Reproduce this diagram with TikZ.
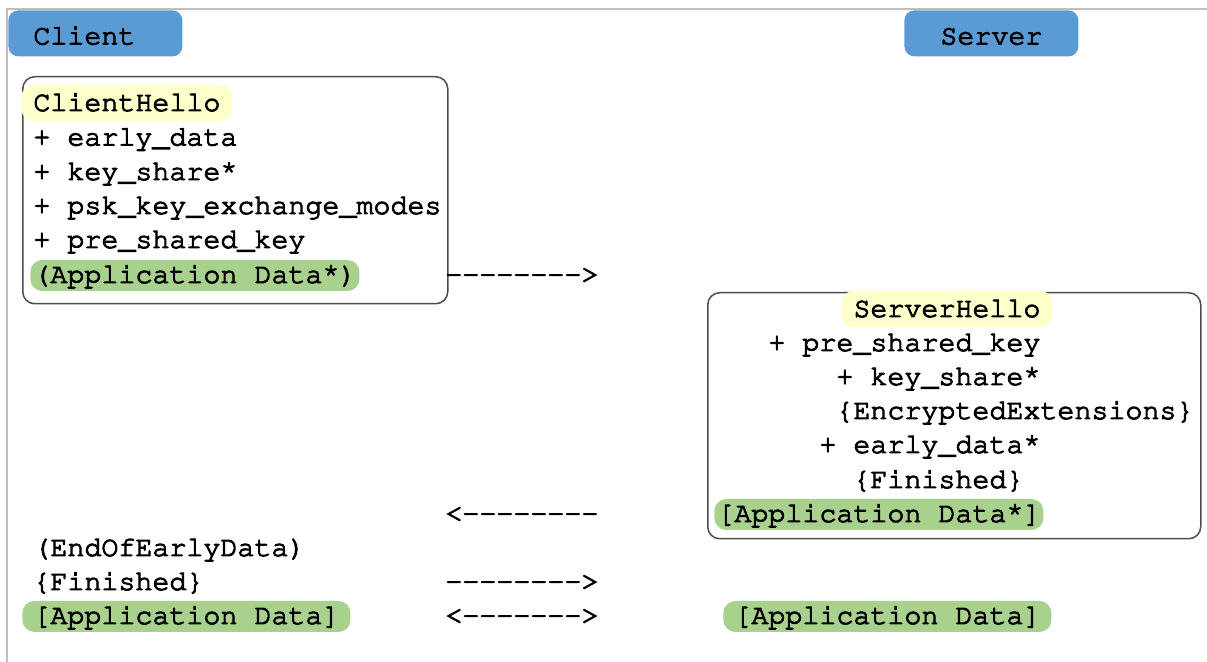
\documentclass[tikz,border=0pt]{standalone}
\usepackage[T1]{fontenc}
\usepackage{courier}
\definecolor{pillblue}{HTML}{5B9BD5}
\definecolor{hlyellow}{HTML}{FFFFCC}
\definecolor{hlgreen}{HTML}{A9D18E}
\definecolor{boxline}{HTML}{4D4D4D}
\definecolor{frameline}{HTML}{BFBFBF}
% slightly heavier typewriter text: fill + thin outline stroke
\newcommand\heavyon{\special{pdf:literal direct 0 G 2 Tr 0.5 w}}
\newcommand\heavyoff{\special{pdf:literal direct 0 Tr}}
% asterisk set high, as in Courier
\newcommand\hiast{\raisebox{0.2em}{*}}
\tikzset{
  every node/.style={font=\ttfamily\fontsize{14.17pt}{17pt}\selectfont,
    inner sep=0pt, anchor=base west,
    execute at begin node=\heavyon, execute at end node=\heavyoff},
  hl/.style={rounded corners=6pt, inner ysep=0pt, text height=11.5pt, text depth=4pt},
  hly/.style={hl, fill=hlyellow, text height=13pt, text depth=5pt, inner xsep=6pt},
  hlg/.style={hl, fill=hlgreen},
  pill/.style={fill=pillblue, rounded corners=5pt, anchor=north west,
    inner xsep=12.5pt, inner ysep=0pt, text width=62pt,
    text height=17pt, text depth=6pt},
  msgbox/.style={draw=boxline, line width=0.75pt, rounded corners=6pt,
    anchor=north west},
}
\begin{document}
\begin{tikzpicture}[x=0.5pt, y=-0.5pt]
\useasboundingbox (0,0) rectangle (1207,662);
% page frame
\draw[frameline, line width=0.75pt] (7,662) -- (7,9) -- (1207,9);

% party labels
\node[pill, align=left]   (client) at (8,10)   {Client};
\node[pill, align=center] (server) at (904,10) {Server};

% ClientHello flight
\node[msgbox, minimum width=212.5pt, minimum height=113.5pt] (cbox) at (22,76) {};
\node[hly] (chello) at (21,111) {ClientHello};
\node (c1) at (33,145.5) {+ early\_data};
\node (c2) at (33,180) {+ key\_share\hiast};
\node (c3) at (33,214) {+ psk\_key\_exchange\_modes};
\node (c4) at (33,248) {+ pre\_shared\_key};
\node[hlg, inner xsep=1.5pt] (cearly) at (30,283) {(Application Data\hiast)};
\node (a1) at (445,283) {-{}-{}-{}-{}-{}-{}-{}-{}>};

% ServerHello flight
\node[msgbox, minimum width=246.5pt, minimum height=123pt] (sbox) at (707,292) {};
\node[hly] (shello) at (841,317) {ServerHello};
\node (s1) at (768,351) {+ pre\_shared\_key};
\node (s2) at (836,385) {+ key\_share\hiast};
\node (s3) at (836,419) {\{EncryptedExtensions\}};
\node (s4) at (819,453) {+ early\_data\hiast};
\node (s5) at (853,488) {\{Finished\}};
\node[hlg, inner xsep=1.5pt] (sapp) at (714,522) {[Application Data\hiast]};
\node (a2) at (445,522) {<-{}-{}-{}-{}-{}-{}-{}-};

% client finish
\node (eoed) at (33,556) {(EndOfEarlyData)};
\node (cfin) at (33,590) {\{Finished\}};
\node (a3) at (445,590) {-{}-{}-{}-{}-{}-{}-{}-{}>};

% application data both ways
\node[hlg, inner xsep=5.5pt] (capp) at (22,624) {[Application Data]};
\node (a4) at (445,624) {<-{}-{}-{}-{}-{}-{}-{}>};
\node[hlg, inner xsep=5.5pt] (sapp2) at (723,624) {[Application Data]};
\end{tikzpicture}
\end{document}
